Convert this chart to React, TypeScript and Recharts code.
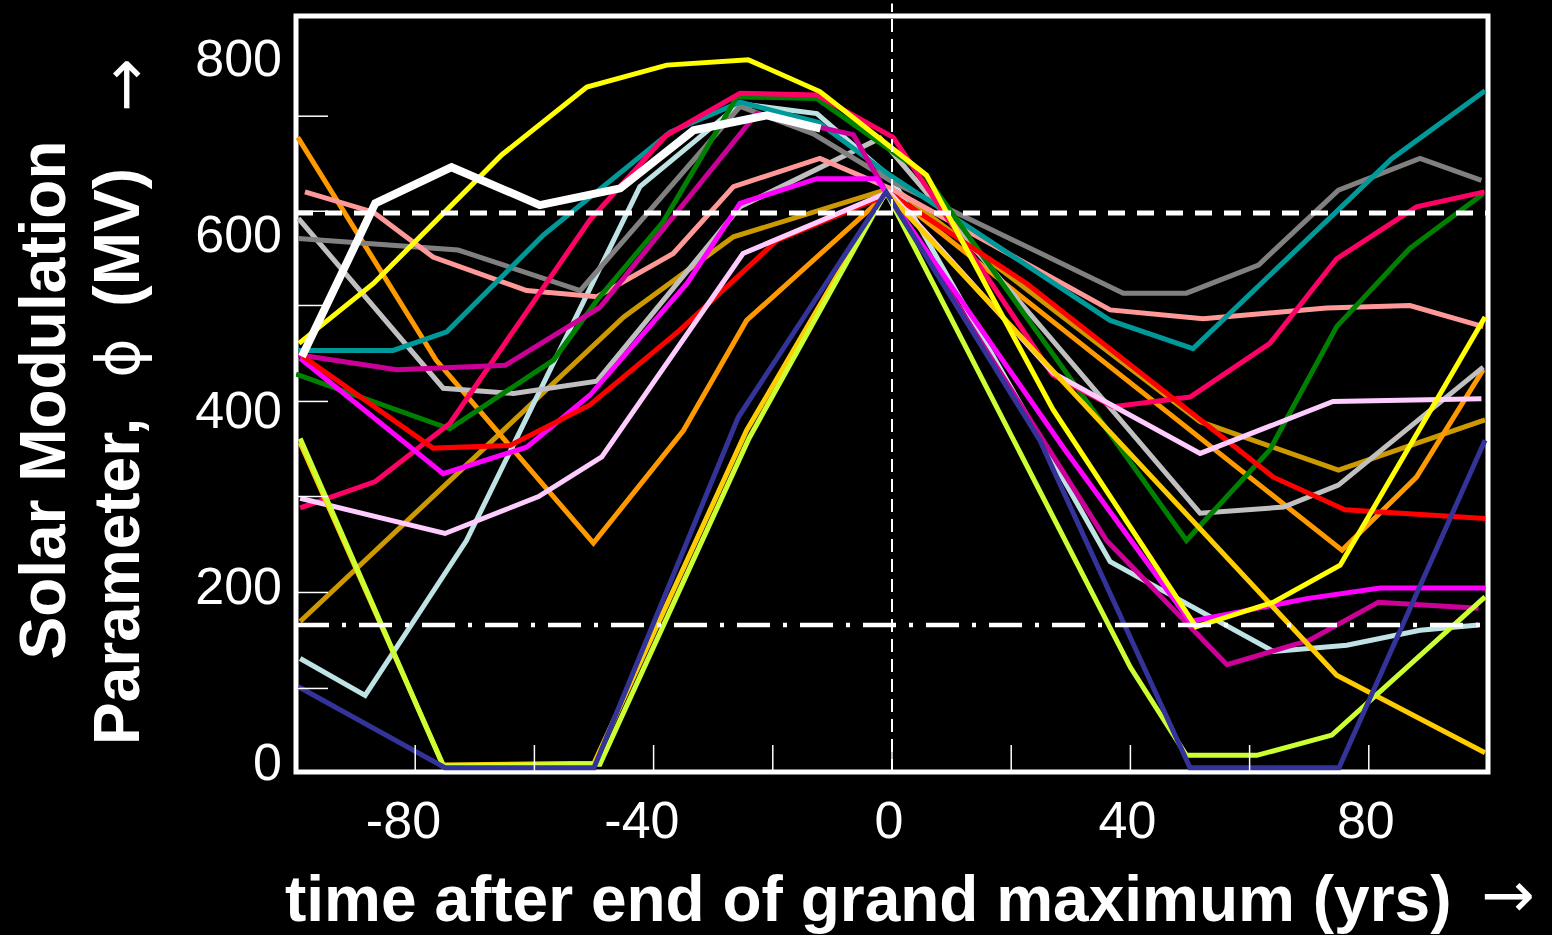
import React from 'react';
import { LineChart, Line, XAxis, YAxis, ReferenceLine, ReferenceArea } from 'recharts';

// axis setup
const X_DOMAIN = [-100, 100];
const Y_DOMAIN = [-11.9, 846.8];
const X_LABEL_TICKS = [-80, -40, 0, 40, 80];
const X_MINOR_TICKS = [-80, -60, -40, -20, 0, 20, 40, 60, 80];
const Y_LABEL_TICKS = [0, 200, 400, 600, 800];
const Y_MINOR_TICKS = [83, 192, 301, 409, 518, 625, 733];

const DASHED_LEVEL = 623;
const DASHDOT_LEVEL = 155;

// [years after end of grand maximum, phi (MV)]
const yellow = [[-99.5, 475], [-87, 543], [-65.5, 689], [-51.2, 766], [-37.8, 791], [-24.1, 797], [-12.1, 761], [5.8, 666], [27, 400], [51, 153], [64, 181], [75.2, 223], [99.5, 505]];
const white = [[-99, 460], [-86.7, 634], [-73.9, 675], [-59.1, 632], [-45.6, 651], [-33.3, 717], [-21, 734], [-12, 719]];
const teal = [[-99.6, 467], [-83.7, 467], [-74.7, 488], [-58.5, 598], [-37.2, 715], [-25.5, 749], [-12.4, 726], [-1, 669], [36.6, 501], [50.5, 469], [83.9, 685], [99.5, 762]];
const rose = [[-99.3, 288], [-86.7, 318], [-74.2, 384], [-50.7, 615], [-37.9, 711], [-25.5, 759], [-12.6, 757], [0.2, 709], [27, 439], [37.1, 403], [50, 414], [63.4, 475], [74.6, 571], [88, 630], [99.4, 647]];
const green = [[-100, 440], [-74.2, 378], [-56.8, 456], [-49.5, 524], [-38.4, 613], [-26, 755], [-12.6, 753], [5.3, 668], [49.4, 251], [63.4, 354], [74.6, 494], [86.9, 583], [99.2, 645]];
const gray = [[-99.6, 594], [-72.8, 581], [-52.3, 535], [-25.5, 744], [-13.2, 713], [0.2, 658], [38.8, 532], [49.4, 532], [61.5, 564], [74.9, 649], [88.6, 685], [98.9, 660]];
const silver = [[-99.6, 617], [-75.3, 424], [-63.5, 418], [-49.5, 432], [-25.5, 630], [-2, 708], [51.7, 282], [65.7, 289], [74.9, 314], [99.2, 448]];
const salmon = [[-98.5, 647], [-87, 624], [-77, 573], [-61.3, 535], [-49.5, 528], [-36.7, 577], [-26.6, 653], [-12.1, 685], [0, 650], [36.6, 513], [52.2, 503], [72.9, 515], [86.9, 518], [99.2, 494]];
const magenta = [[-99.3, 458], [-75.3, 327], [-61.3, 357], [-50.7, 416], [-34.4, 543], [-25.5, 634], [-12.6, 662], [-2.6, 662], [28.7, 357], [50, 159], [69.6, 185], [81.9, 197], [99.5, 197]];
const purple = [[-99.6, 462], [-83.1, 445], [-64.9, 450], [-49, 516], [-22.7, 736], [-6.5, 712], [-1, 647], [36, 251], [56.2, 110], [70.1, 138], [81.6, 181], [98.4, 174]];
const red = [[-98.8, 460], [-77, 356], [-64.1, 359], [-50.7, 405], [-35.6, 490], [-19.3, 592], [-0.3, 645], [22.6, 543], [64, 323], [76, 286], [99.5, 276]];
const orange = [[-99.7, 709], [-76.5, 456], [-50.1, 248], [-35, 376], [-24.4, 501], [-0.5, 647], [75.5, 240], [88, 323], [99.2, 445]];
const goldenrod = [[-99.3, 159], [-45, 505], [-26.6, 596], [0.2, 652], [51.7, 386], [74.9, 331], [99.5, 388]];
const lightPink = [[-99.3, 299], [-75, 259], [-59.3, 301], [-48.7, 346], [-25, 577], [-0.5, 647], [27.1, 441], [51.7, 350], [74, 409], [98.9, 412]];
const lightBlue = [[-99.3, 117], [-88.4, 75], [-71.4, 251], [-42.3, 653], [-25.5, 747], [-12.6, 736], [0, 662], [28.8, 320], [36.6, 227], [64, 125], [76.3, 132], [88.6, 149], [98.4, 155]];
const gold = [[-99.3, 362], [-75.3, -4], [-50, -2], [-24.4, 376], [-1, 647], [74.6, 98], [99.5, 10]];
const yellowGreen = [[-99.3, 367], [-75.3, -5], [-49, -3], [-24, 367], [-1, 647], [40, 107], [49.4, 7], [61.2, 7], [73.8, 30], [99.5, 187]];
const navy = [[-99.6, 85], [-75, -7], [-50, -7], [-25.8, 391], [-1, 647], [24.8, 365], [50, -7], [75, -7], [99.5, 365]];

const SERIES = [
  { name: 'goldenrod', color: '#cc9900', points: goldenrod },
  { name: 'orange', color: '#ff9900', points: orange },
  { name: 'lightBlue', color: '#bfe2e4', points: lightBlue },
  { name: 'silver', color: '#c0c0c0', points: silver },
  { name: 'gray', color: '#808080', points: gray },
  { name: 'salmon', color: '#ff9999', points: salmon },
  { name: 'teal', color: '#009999', points: teal },
  { name: 'green', color: '#008000', points: green },
  { name: 'rose', color: '#ff0066', points: rose },
  { name: 'purple', color: '#cc0099', points: purple },
  { name: 'magenta', color: '#ff00ff', points: magenta },
  { name: 'red', color: '#ff0000', points: red },
  { name: 'lightPink', color: '#ffccff', points: lightPink },
  { name: 'gold', color: '#ffcc00', points: gold },
  { name: 'yellowGreen', color: '#ccff33', points: yellowGreen },
  { name: 'navy', color: '#333399', points: navy },
  { name: 'yellow', color: '#ffff00', points: yellow },
  { name: 'white', color: '#ffffff', points: white, width: 8 },
];

const FONT = '"Liberation Sans", Arial, Helvetica, sans-serif';

// bottom axis: inward tick mark at every minor tick, label only on the labelled ones
function XTick(props: any) {
  const { x, y, payload } = props;
  const v = payload.value;
  const showLabel = X_LABEL_TICKS.includes(v);
  const digits = String(Math.abs(v));
  const cx = x - 3;
  const by = y + 66;
  return (
    <g>
      <line x1={x} x2={x} y1={y} y2={y - 27} stroke="#fff" strokeWidth={1.5} />
      {showLabel && (
        <text x={cx} y={by} textAnchor="middle" fill="#fff" fontSize={52} fontFamily={FONT}>
          {digits}
        </text>
      )}
      {showLabel && v < 0 && (
        <text x={cx - digits.length * 14.5} y={by} textAnchor="end" fill="#fff" fontSize={52} fontFamily={FONT}>
          -
        </text>
      )}
    </g>
  );
}

const noTick = () => <g />;

export default function App() {
  return (
    <div style={{ position: 'absolute', left: 0, top: 0, width: 1552, height: 935, background: '#000' }}>
      <LineChart
        width={1552}
        height={935}
        margin={{ top: 16, right: 64, bottom: 103, left: 196 }}
      >
        <XAxis
          dataKey="x"
          type="number"
          domain={X_DOMAIN}
          allowDataOverflow
          ticks={X_MINOR_TICKS}
          interval={0}
          tick={<XTick />}
          tickLine={false}
          axisLine={false}
          tickSize={0}
          tickMargin={0}
          height={60}
        />
        <YAxis
          type="number"
          domain={Y_DOMAIN}
          allowDataOverflow
          ticks={Y_LABEL_TICKS}
          tick={{ fill: '#fff', fontSize: 52, fontFamily: FONT }}
          tickLine={false}
          axisLine={false}
          tickSize={0}
          tickMargin={14}
          width={100}
        />
        <YAxis
          yAxisId="minor"
          type="number"
          domain={Y_DOMAIN}
          allowDataOverflow
          ticks={Y_MINOR_TICKS}
          mirror
          tick={noTick}
          tickLine={{ stroke: '#fff', strokeWidth: 1.5 }}
          tickSize={32}
          axisLine={false}
        />
        <ReferenceArea
          x1={X_DOMAIN[0]}
          x2={X_DOMAIN[1]}
          y1={Y_DOMAIN[0]}
          y2={Y_DOMAIN[1]}
          fill="none"
          stroke="#fff"
          strokeWidth={5}
          ifOverflow="visible"
        />
        {SERIES.map((s) => (
          <Line
            key={s.name}
            data={s.points.map(([x, v]) => ({ x, v }))}
            dataKey="v"
            type="linear"
            stroke={s.color}
            strokeWidth={s.width || 5}
            dot={false}
            activeDot={false}
            isAnimationActive={false}
          />
        ))}
        <ReferenceLine
          y={DASHED_LEVEL}
          stroke="#fff"
          strokeWidth={5}
          strokeDasharray="17 12"
        />
        <ReferenceLine
          y={DASHDOT_LEVEL}
          stroke="#fff"
          strokeWidth={4.5}
          strokeDasharray="33 13 4 13"
        />
        <ReferenceLine
          segment={[{ x: 0, y: Y_DOMAIN[0] }, { x: 0, y: 861 }]}
          stroke="#fff"
          strokeWidth={2}
          strokeDasharray="13 7"
          ifOverflow="visible"
        />
      </LineChart>
      <svg
        width={1552}
        height={935}
        style={{ position: 'absolute', left: 0, top: 0, pointerEvents: 'none' }}
      >
        <g fill="#fff" fontFamily={FONT}>
          <text x={285} y={921} fontSize={64} fontWeight="bold">
            time after end of grand maximum (yrs)
          </text>
          <text x={1481} y={917} fontSize={64} fontFamily='"DejaVu Sans", sans-serif'>→</text>
          <text transform="translate(65,400) rotate(-90)" textAnchor="middle" fontSize={64} fontWeight="bold">
            Solar Modulation
          </text>
          <text transform="translate(139,745) rotate(-90)" fontSize={64} fontWeight="bold">
            Parameter,
          </text>
          <text transform="translate(139,358) rotate(-90)" textAnchor="middle" fontSize={60} fontFamily='"DejaVu Sans", sans-serif'>
            ϕ
          </text>
          <text transform="translate(139,168) rotate(-90)" textAnchor="end" fontSize={64} fontWeight="bold">
            (MV)
          </text>
          <text transform="translate(147,112) rotate(-90)" fontSize={64} fontFamily='"DejaVu Sans", sans-serif'>→</text>
        </g>
      </svg>
    </div>
  );
}
